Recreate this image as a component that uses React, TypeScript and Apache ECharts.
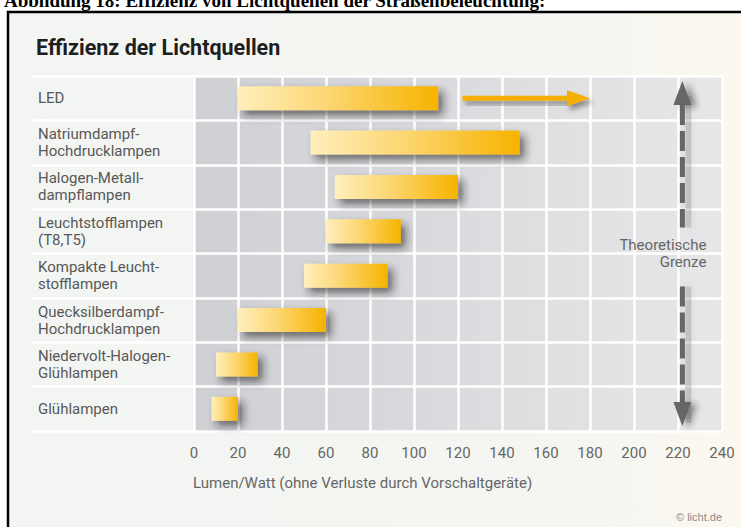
import React, { useEffect, useRef } from "react";
import * as echarts from "echarts";

const categories = [
  "LED",
  "Natriumdampf-\nHochdrucklampen",
  "Halogen-Metall-\ndampflampen",
  "Leuchtstofflampen\n(T8,T5)",
  "Kompakte Leucht-\nstofflampen",
  "Quecksilberdampf-\nHochdrucklampen",
  "Niedervolt-Halogen-\nGlühlampen",
  "Glühlampen",
];
const rangeStart = [20, 53, 64, 60, 50, 20, 10, 8];
const rangeEnd = [111, 148, 120, 94, 88, 60, 29, 20];
const ledTrend = [122, 180];
const theoreticalLimit = [222];
const xMin = 0;
const xMax = 240;
const xInterval = 20;

const headerText = "Abbildung 18: Effizienz von Lichtquellen der Straßenbeleuchtung:";
const titleText = "Effizienz der Lichtquellen";
const axisNameText = "Lumen/Watt (ohne Verluste durch Vorschaltgeräte)";
const limitText = "Theoretische\nGrenze";
const sourceText = "© licht.de";

const FONT = "Roboto, 'Open Sans', sans-serif";

export default function App() {
  const ref = useRef<HTMLDivElement>(null);
  useEffect(() => {
    document.body.style.margin = "0";
    const chart = echarts.init(ref.current!, null, { renderer: "svg" });
    const barGradient = () =>
      new echarts.graphic.LinearGradient(0, 0, 1, 0, [
        { offset: 0, color: "#ffefbd" },
        { offset: 0.45, color: "#fcd671" },
        { offset: 1, color: "#f6b300" },
      ]);
    const option: any = {
      animation: false,
      backgroundColor: "#ffffff",
      graphic: [
        {
          type: "rect",
          z: -10,
          shape: { x: 8, y: 12, width: 740, height: 520 },
          style: {
            fill: new echarts.graphic.LinearGradient(0, 0, 1, 0, [
              { offset: 0, color: "#f2f5f2" },
              { offset: 0.8, color: "#f5f6f2" },
              { offset: 1, color: "#fdf8ee" },
            ]),
            stroke: "#000",
            lineWidth: 2.5,
          },
        },
        {
          type: "text",
          x: 4,
          y: 0,
          style: {
            text: headerText,
            fontFamily: "'Liberation Serif', serif",
            fontWeight: "bold",
            fontSize: 19,
            fill: "#000",
            verticalAlign: "middle",
          },
        },
        {
          type: "text",
          x: 36,
          y: 47,
          style: {
            text: titleText,
            fontFamily: FONT,
            fontWeight: "bold",
            fontSize: 21.5,
            fill: "#1e1e1e",
            verticalAlign: "middle",
          },
        },
        {
          type: "text",
          x: 193,
          y: 483,
          style: {
            text: axisNameText,
            fontFamily: FONT,
            fontSize: 15,
            fill: "#666",
            verticalAlign: "middle",
          },
        },
        {
          type: "text",
          x: 722,
          y: 517,
          style: {
            text: sourceText,
            fontFamily: "'Liberation Sans', Arial, sans-serif",
            fontSize: 11,
            fill: "#8a8a8a",
            align: "right",
            verticalAlign: "middle",
          },
        },
      ],
      grid: [
        {
          left: 194,
          right: 19,
          top: 76,
          height: 355,
          show: true,
          borderWidth: 0,
          backgroundColor: new echarts.graphic.LinearGradient(0, 0, 1, 0, [
            { offset: 0, color: "#cfd0d4" },
            { offset: 1, color: "#e7e7e9" },
          ]),
        },
        { left: 32, width: 162, top: 76, height: 355, show: false },
      ],
      xAxis: [
        {
          type: "value",
          gridIndex: 0,
          min: xMin,
          max: xMax,
          interval: xInterval,
          axisLine: { show: false },
          axisTick: { show: false },
          axisLabel: { fontSize: 15, color: "#666", margin: 14, fontFamily: FONT },
          splitLine: { show: true, lineStyle: { color: "#ffffff", width: 2.5 } },
        },
        { type: "value", gridIndex: 1, min: 0, max: 1, show: false },
      ],
      yAxis: [
        {
          type: "category",
          gridIndex: 0,
          data: categories,
          inverse: true,
          axisLine: { show: false },
          axisTick: { show: false },
          axisLabel: {
            align: "left",
            margin: 156,
            fontSize: 15,
            lineHeight: 17,
            color: "#585858",
            fontFamily: FONT,
          },
          splitLine: { show: true, lineStyle: { color: "#ffffff", width: 2.5 } },
        },
        {
          type: "category",
          gridIndex: 1,
          data: categories,
          inverse: true,
          axisLine: { show: false },
          axisTick: { show: false },
          axisLabel: { show: false },
          splitLine: { show: true, lineStyle: { color: "#ffffff", width: 2.5 } },
        },
      ],
      series: [
        {
          type: "custom",
          xAxisIndex: 0,
          yAxisIndex: 0,
          silent: true,
          data: rangeStart.map((s, i) => [s, rangeEnd[i], i]),
          encode: { x: [0, 1], y: 2 },
          renderItem: (params: any, api: any) => {
            const p0 = api.coord([api.value(0), api.value(2)]);
            const p1 = api.coord([api.value(1), api.value(2)]);
            const h = api.size([0, 1])[1] * 0.54;
            return {
              type: "rect",
              shape: { x: p0[0], y: p0[1] - h / 2, width: p1[0] - p0[0], height: h },
              style: {
                fill: barGradient(),
                shadowBlur: 8,
                shadowColor: "rgba(30,30,30,0.6)",
                shadowOffsetX: 5,
                shadowOffsetY: 5,
              },
            };
          },
        },
        {
          type: "custom",
          xAxisIndex: 0,
          yAxisIndex: 0,
          silent: true,
          data: [[ledTrend[0], ledTrend[1], 0]],
          encode: { x: [0, 1], y: 2 },
          renderItem: (params: any, api: any) => {
            const p0 = api.coord([api.value(0), api.value(2)]);
            const p1 = api.coord([api.value(1), api.value(2)]);
            const headLen = 23;
            const shadow = {
              shadowBlur: 5,
              shadowColor: "rgba(30,30,30,0.45)",
              shadowOffsetX: 3,
              shadowOffsetY: 4,
            };
            return {
              type: "group",
              children: [
                {
                  type: "rect",
                  shape: {
                    x: p0[0],
                    y: p1[1] - 2.5,
                    width: p1[0] - headLen + 2 - p0[0],
                    height: 5,
                  },
                  style: { fill: "#f4b000", ...shadow },
                },
                {
                  type: "polygon",
                  shape: {
                    points: [
                      [p1[0], p1[1]],
                      [p1[0] - headLen, p1[1] - 8],
                      [p1[0] - headLen, p1[1] + 8],
                    ],
                  },
                  style: { fill: "#f4b000", ...shadow },
                },
              ],
            };
          },
        },
        {
          type: "custom",
          xAxisIndex: 0,
          yAxisIndex: 0,
          silent: true,
          data: theoreticalLimit.map((v) => [v]),
          encode: { x: 0 },
          renderItem: (params: any, api: any) => {
            const x = api.coord([api.value(0), 0])[0];
            const top = params.coordSys.y;
            const bottom = params.coordSys.y + params.coordSys.height;
            const mid = (top + bottom) / 2;
            const col = "#666666";
            const shadow = {
              shadowBlur: 6,
              shadowColor: "rgba(40,40,40,0.45)",
              shadowOffsetX: 6,
              shadowOffsetY: 2,
            };
            const dash = { stroke: col, lineWidth: 5, lineDash: [20, 6] };
            const shadowRect = (y1: number, y2: number) => ({
              type: "rect",
              shape: { x: x + 3, y: y1, width: 6, height: y2 - y1 },
              style: {
                fill: "rgba(90,90,90,0.22)",
                shadowBlur: 6,
                shadowColor: "rgba(90,90,90,0.35)",
              },
            });
            return {
              type: "group",
              children: [
                shadowRect(top + 20, mid - 26),
                shadowRect(mid + 33, bottom - 8),
                {
                  type: "polygon",
                  shape: { points: [[x, top + 5], [x - 9, top + 29], [x + 9, top + 29]] },
                  style: { fill: col, ...shadow },
                },
                {
                  type: "line",
                  shape: { x1: x, y1: top + 29, x2: x, y2: mid - 26 },
                  style: dash,
                },
                {
                  type: "line",
                  shape: { x1: x, y1: mid + 33, x2: x, y2: bottom - 29 },
                  style: dash,
                },
                {
                  type: "polygon",
                  shape: {
                    points: [[x, bottom - 5], [x - 9, bottom - 29], [x + 9, bottom - 29]],
                  },
                  style: { fill: col, ...shadow },
                },
                {
                  type: "text",
                  style: {
                    text: limitText,
                    x: x + 24,
                    y: mid,
                    align: "right",
                    verticalAlign: "middle",
                    fontSize: 15,
                    lineHeight: 17,
                    fontFamily: FONT,
                    fill: "#666",
                  },
                },
              ],
            };
          },
        },
      ],
    };
    chart.setOption(option);
    return () => chart.dispose();
  }, []);
  return <div ref={ref} style={{ width: 741, height: 527 }} />;
}
